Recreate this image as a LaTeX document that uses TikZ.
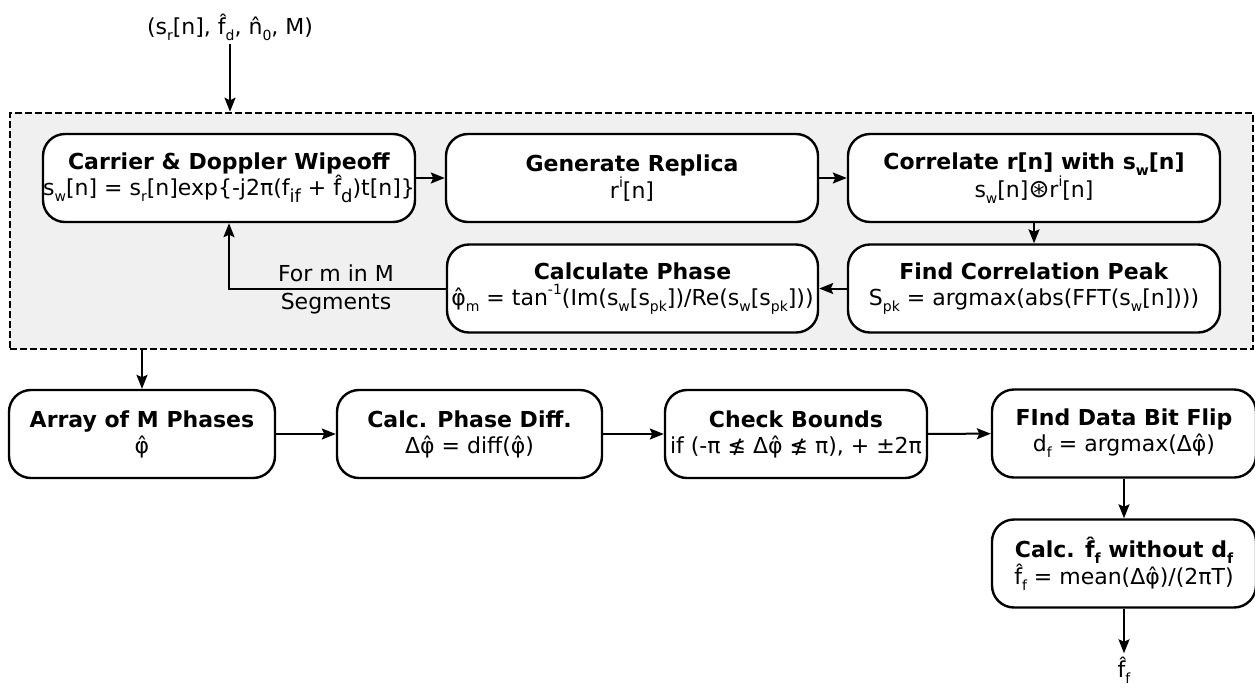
\documentclass[tikz,border=0pt]{standalone}
\usepackage{fontspec}
\setmainfont{DejaVu Sans}
\usetikzlibrary{arrows.meta,calc}
\definecolor{panel}{HTML}{F0F0F0}
% small lowered / raised indices
\newcommand\sbs[1]{\raisebox{-0.27em}{\fontsize{14}{14}\selectfont #1}}
\newcommand\sbl[1]{\raisebox{-0.32em}{\fontsize{18}{18}\selectfont #1}}
\newcommand\sps[1]{\raisebox{0.5em}{\fontsize{14}{14}\selectfont #1}}
% letter with a hat (combining circumflex)
\newcommand\hh[1]{#1^^^^0302}
\begin{document}
\begin{tikzpicture}[x=1pt,y=-1pt,
  txt/.style={font=\fontsize{22}{26}\selectfont},
  box/.style={txt, draw, line width=2.4pt, rounded corners=22pt, fill=white,
    align=center, inner sep=0pt, minimum height=88pt},
  arr/.style={-{Stealth[length=14pt,width=11pt,inset=2.5pt]}, line width=2pt},
  panelbox/.style={draw, line width=2.5pt, dash pattern=on 7pt off 3pt,
    fill=panel, inner sep=0pt}]
\useasboundingbox (0,0) rectangle (1255,689);

% shaded loop region
\node[panelbox, minimum width=1243pt, minimum height=236pt] (grp) at (631.5,231) {};

% input
\node[txt] (inp) at (230,27) {(s\sbs{r}[n], \hh{f}\sbs{d}, \hh{n}\sbs{0}, M)};

% loop body
\node[box, minimum width=372pt] (wipe) at (229,178)
  {\textbf{Carrier \& Doppler Wipeoff}\\
   s\sbs{w}[n] = s\sbs{r}[n]exp\{-j2π(f\sbl{if} + \hh{f}\sbl{d})t[n]\}};
\node[box, minimum width=372pt] (rep) at (632,178)
  {\textbf{Generate Replica}\\ r\sps{i}[n]};
\node[box, minimum width=372pt] (corr) at (1034,178)
  {\textbf{Correlate r[n] with s\sbs{w}[n]}\\ s\sbs{w}[n]{\fontsize{25}{25}\selectfont ⊛}r\sps{i}[n]};
\node[box, minimum width=372pt] (peak) at (1034,288.5)
  {\textbf{Find Correlation Peak}\\ S\sbs{pk} = argmax(abs(FFT(s\sbs{w}[n])))};
\node[box, minimum width=371pt] (phase) at (632.5,288.5)
  {\textbf{Calculate Phase}\\ \hh{φ}\sbs{m} = tan\sps{-1}(Im(s\sbs{w}[s\sbs{pk}])/Re(s\sbs{w}[s\sbs{pk}]))};

% post-processing chain
\node[box, minimum width=266pt] (arr) at (142,434)
  {\textbf{Array of M Phases}\\ \hh{φ}};
\node[box, minimum width=265pt] (diff) at (469.5,434)
  {\textbf{Calc. Phase Diff.}\\ Δ\hh{φ} = diff(\hh{φ})};
\node[box, minimum width=262pt] (bnd) at (796,434)
  {\textbf{Check Bounds}\\ if (-π ≰ Δ\hh{φ} ≰ π), + ±2π};
\node[box, minimum width=264pt] (flip) at (1124,433.5)
  {\textbf{FInd Data Bit Flip}\\ d\sbs{f} = argmax(Δ\hh{φ})};
\node[box, minimum width=264pt] (ff) at (1124,563.5)
  {\textbf{Calc. \hh{f}\sbs{f} without d\sbs{f}}\\ \hh{f}\sbs{f} = mean(Δ\hh{φ})/(2πT)};
\node[txt] (out) at (1124,670) {\hh{f}\sbs{f}};

% connectors
\draw[arr] (inp) -- (inp |- grp.north);
\draw[arr] (wipe) -- (rep);
\draw[arr] (rep) -- (corr);
\draw[arr] (corr) -- (peak);
\draw[arr] (peak) -- (phase);
\draw[arr] (phase.west) -| (wipe.south);
\node[font=\fontsize{22}{28}\selectfont, align=center] (lbl) at (336,289)
  {For m in M\\Segments};
\draw[arr] (grp.south -| arr.north) -- (arr.north);
\draw[arr] (arr) -- (diff);
\draw[arr] (diff) -- (bnd);
\draw[arr] (bnd) -- (flip);
\draw[arr] (flip) -- (ff);
\draw[arr] (ff) -- (out);
\end{tikzpicture}
\end{document}
